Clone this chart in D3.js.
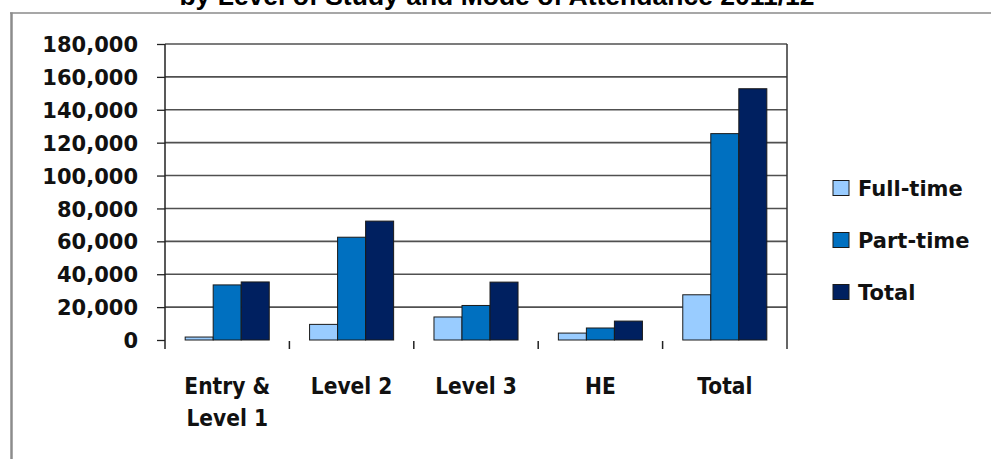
<!DOCTYPE html>
<html>
<head>
<meta charset="utf-8">
<script src="https://cdn.jsdelivr.net/npm/d3@7"></script>
<style>
  html, body { margin: 0; padding: 0; background: #fff; }
  svg { display: block; }
</style>
</head>
<body>
<svg id="chart" width="991" height="459"></svg>
<script>
const title = "by Level of Study and Mode of Attendance 2011/12";
const categories = [["Entry &", "Level 1"], ["Level 2"], ["Level 3"], ["HE"], ["Total"]];
const categoryKeys = ["Entry & Level 1", "Level 2", "Level 3", "HE", "Total"];
const series = ["Full-time", "Part-time", "Total"];
const fullTime = [1800, 9500, 14000, 4200, 27500];
const partTime = [33500, 62500, 21000, 7300, 125500];
const total = [35300, 72300, 35200, 11500, 152800];
const yTicks = [0, 20000, 40000, 60000, 80000, 100000, 120000, 140000, 160000, 180000];
const colors = ["#99CCFF", "#0070C0", "#002060"];

const values = [fullTime, partTime, total];
const svg = d3.select("#chart");

const plot = { left: 165, right: 787, top: 44, bottom: 340 };

const x0 = d3.scaleBand().domain(categoryKeys).range([plot.left, plot.right]).paddingInner(0).paddingOuter(0);
const x1 = d3.scaleBand().domain(series).range([0, x0.bandwidth()]).paddingInner(0).paddingOuter(0.72);
const y = d3.scaleLinear().domain([0, 180000]).range([plot.bottom, plot.top]);

// outer frame
svg.append("line").attr("x1", 10).attr("x2", 991).attr("y1", 13).attr("y2", 13)
  .attr("stroke", "#8a8a8a").attr("stroke-width", 1.5);
svg.append("line").attr("x1", 11.5).attr("x2", 11.5).attr("y1", 12.5).attr("y2", 459)
  .attr("stroke", "#8c8c8c").attr("stroke-width", 2.5);

// title (cropped at top)
svg.append("text").attr("x", 497).attr("y", 5).attr("text-anchor", "middle")
  .attr("font-family", "'Liberation Sans', Arial, sans-serif").attr("font-weight", "bold")
  .attr("font-size", 26.5).attr("fill", "#000").text(title);

// gridlines
svg.append("g").selectAll("line").data(yTicks.filter(d => d > 0)).join("line")
  .attr("x1", plot.left).attr("x2", plot.right)
  .attr("y1", d => y(d)).attr("y2", d => y(d))
  .attr("stroke", "#505050").attr("stroke-width", 1.6);

// left axis with ticks and labels
const yAxis = d3.axisLeft(y).tickValues(yTicks).tickSize(8).tickPadding(19).tickFormat(d3.format(","));
const gy = svg.append("g").attr("transform", `translate(${plot.left},0)`).call(yAxis);
gy.select(".domain").remove();
gy.selectAll(".tick line").attr("stroke", "#222").attr("stroke-width", 1.3);
gy.selectAll(".tick text")
  .attr("font-family", "'DejaVu Sans', sans-serif").attr("font-weight", "bold")
  .attr("font-size", 21).attr("fill", "#111").attr("dy", "0.36em");
gy.attr("font-size", null).attr("font-family", null);

// vertical borders
svg.append("line").attr("x1", plot.left).attr("x2", plot.left).attr("y1", plot.top).attr("y2", plot.bottom + 9)
  .attr("stroke", "#222").attr("stroke-width", 1.5);
svg.append("line").attr("x1", plot.right).attr("x2", plot.right).attr("y1", plot.top).attr("y2", plot.bottom + 9)
  .attr("stroke", "#333").attr("stroke-width", 1.5);

// category boundary ticks
svg.append("g").selectAll("line").data(categoryKeys.slice(1)).join("line")
  .attr("x1", d => x0(d)).attr("x2", d => x0(d))
  .attr("y1", plot.bottom + 1).attr("y2", plot.bottom + 9)
  .attr("stroke", "#222").attr("stroke-width", 1.5);

// bars
const groups = svg.append("g").selectAll("g").data(categoryKeys).join("g")
  .attr("transform", d => `translate(${x0(d)},0)`);
groups.selectAll("rect")
  .data((d, i) => series.map((s, j) => ({ s, j, v: values[j][i] })))
  .join("rect")
  .attr("x", d => x1(d.s))
  .attr("width", x1.bandwidth())
  .attr("y", d => y(d.v))
  .attr("height", d => y(0) - y(d.v))
  .attr("fill", d => colors[d.j])
  .attr("stroke", "#1a1a1a").attr("stroke-width", 1);

// category labels
const labels = svg.append("g").selectAll("g").data(categories).join("g")
  .attr("transform", (d, i) => `translate(${x0(categoryKeys[i]) + x0.bandwidth() / 2},0)`);
labels.selectAll("text").data(d => d).join("text")
  .attr("transform", (d, k) => `translate(0,${394 + k * 31.5}) scale(0.88,1)`)
  .attr("text-anchor", "middle")
  .attr("font-family", "'DejaVu Sans', sans-serif").attr("font-weight", "bold")
  .attr("font-size", 23).attr("fill", "#111")
  .text(d => d);

// legend
const legend = svg.append("g").selectAll("g").data(series).join("g")
  .attr("transform", (d, i) => `translate(833,${188 + i * 52})`);
legend.append("rect").attr("x", 0).attr("y", -7.5).attr("width", 16).attr("height", 15)
  .attr("fill", (d, i) => colors[i]).attr("stroke", "#1a1a1a").attr("stroke-width", 1);
legend.append("text").attr("x", 25).attr("y", 0).attr("dy", "0.36em")
  .attr("font-family", "'DejaVu Sans', sans-serif").attr("font-weight", "bold")
  .attr("font-size", 21).attr("fill", "#111").text(d => d);
</script>
</body>
</html>
